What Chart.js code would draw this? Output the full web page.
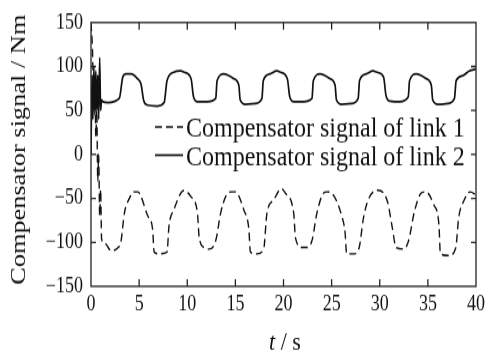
<!DOCTYPE html>
<html>
<head>
<meta charset="utf-8">
<script src="https://cdn.jsdelivr.net/npm/chart.js@4.4.1/dist/chart.umd.min.js"></script>
<style>
  html { overflow: hidden; }
  body { margin: 0; padding: 0; background: #fff; height: 351px; }
  /* the reference figure is stretched vertically, so the canvas is too */
  #wrap { width: 489px; height: 293px; transform: scaleY(1.198); transform-origin: 0 0; }
</style>
</head>
<body>
<div id="wrap"><canvas id="chart" width="489" height="293"></canvas></div>
<script>
const FONT = '"Liberation Serif", "Times New Roman", serif';

// time axis ticks (s) and signal ticks (Nm)
const xTicks = [0, 5, 10, 15, 20, 25, 30, 35, 40];
const yTicks = [-150, -100, -50, 0, 50, 100, 150];

const legendLabels = ['Compensator signal of link 1', 'Compensator signal of link 2'];

// link 1 (dashed)
const link1T = [0, 0.15, 0.3, 0.4, 0.5, 0.6, 0.7, 0.8, 0.9, 1.0, 1.1, 1.3, 1.55, 2.1, 2.8, 3.1, 3.47, 3.98, 4.5, 4.85,
  5.9, 6.4, 6.56, 7.08, 7.9, 8.1, 8.6, 9.66, 10.38, 11.06, 11.24, 11.75, 12.27, 12.96, 13.47, 13.99, 14.5, 15.0,
  15.88, 16.4, 16.56, 17.25, 17.94, 18.28, 18.97, 19.8, 20.2, 21.06, 21.24, 21.9, 22.4, 22.96, 23.47, 24.15, 24.5,
  25.0, 26.05, 26.4, 26.56, 27.4, 27.9, 28.28, 28.8, 29.8, 30.8, 31.3, 31.7, 32.5, 33.0, 33.6, 34.3, 34.8,
  35.6, 36.15, 36.3, 37.2, 37.9, 38.2, 38.7, 39.4, 40];
const link1V = [150, 120, 60, 90, 20, 50, -30, 0, -70, -40, -96, -100, -102, -109.5, -106, -100, -66.7, -50, -42.5, -42.5,
  -70, -85, -111, -113, -111, -81.6, -63, -41, -48, -66.7, -94.6, -105.8, -107.6, -98, -66.7, -48, -42.5, -42.5,
  -63, -85, -111, -113, -107.6, -66.7, -51.7, -39, -44, -66.7, -94.6, -105.8, -105.8, -98, -66.7, -44, -42.5,
  -44, -70, -89, -113, -113, -104, -74, -51.7, -40.6, -53.6, -83, -106, -107.6, -98, -65, -44, -42.5,
  -57, -80, -113, -115, -106, -72, -53.6, -42.5, -46];

// link 2 (solid)
const link2T = [0, 0.1, 0.2, 0.3, 0.4, 0.5, 0.6, 0.7, 0.8, 0.9, 1.0, 1.1, 1.24, 1.75, 2.95, 3.3, 3.65, 4.15, 4.85, 5.2,
  5.46, 5.9, 6.9, 7.6, 7.9, 8.6, 9.3, 9.7, 10.4, 10.65, 11.06, 12.1, 12.96, 13.1, 13.8, 14.85, 15.36, 15.5, 16.05,
  17.08, 17.76, 17.9, 18.6, 19.3, 19.7, 20.4, 20.65, 21.06, 22.1, 22.96, 23.1, 23.8, 24.85, 25.36, 25.5, 26.05,
  27.08, 27.76, 27.9, 28.6, 29.3, 29.7, 30.4, 30.65, 31.06, 32.1, 32.96, 33.1, 33.8, 34.85, 35.36, 35.5, 36.05,
  37.08, 37.76, 37.94, 38.63, 39.3, 40];
const link2V = [0, 90, 40, 100, 45, 95, 50, 90, 40, 110, 50, 62, 60, 59, 64, 88, 91.6, 91.6, 86, 80,
  62, 56, 55, 59, 84, 93.5, 95, 93.5, 86, 65.6, 60, 60, 63.7, 84, 91.6, 86, 78.5, 62, 57,
  58, 63.7, 84, 91.6, 95, 93.5, 86, 65.6, 60, 60, 63.7, 84, 91.6, 86, 78.5, 62, 57,
  58, 63.7, 84, 91.6, 95, 93.5, 88, 67, 60.7, 60, 65.6, 84, 91.6, 86, 78.5, 62, 57,
  58, 63.7, 84, 89.7, 95, 97];

const toPoints = (ts, vs) => ts.map((t, i) => ({ x: t, y: vs[i] }));

// box, inside ticks, axis titles and legend
const frame = {
  id: 'frame',
  afterDatasetsDraw(chart) {
    const { ctx, chartArea: a, scales: { x, y } } = chart;
    ctx.save();
    ctx.strokeStyle = '#222';
    ctx.lineWidth = 1.3;
    ctx.strokeRect(a.left, a.top, a.right - a.left, a.bottom - a.top);
    ctx.beginPath();
    xTicks.slice(1, -1).forEach(v => {
      const px = x.getPixelForValue(v);
      ctx.moveTo(px, a.bottom); ctx.lineTo(px, a.bottom - 6);
      ctx.moveTo(px, a.top); ctx.lineTo(px, a.top + 6);
    });
    yTicks.slice(1, -1).forEach(v => {
      const py = y.getPixelForValue(v);
      ctx.moveTo(a.left, py); ctx.lineTo(a.left + 5, py);
      ctx.moveTo(a.right, py); ctx.lineTo(a.right - 5, py);
    });
    ctx.stroke();

    // legend
    ctx.font = '24px ' + FONT;
    ctx.fillStyle = '#111';
    ctx.textAlign = 'left';
    ctx.textBaseline = 'alphabetic';
    const rows = [106, 129.5];
    chart.data.datasets.forEach((ds, i) => {
      ctx.setLineDash(ds.borderDash || []);
      ctx.lineWidth = ds.borderWidth;
      ctx.strokeStyle = ds.borderColor;
      ctx.beginPath();
      ctx.moveTo(155, rows[i]); ctx.lineTo(183, rows[i]);
      ctx.stroke();
      ctx.fillText(legendLabels[i], 186, rows[i] + 8);
    });
    ctx.setLineDash([]);

    // x title: italic t / s
    ctx.font = 'italic 22px ' + FONT;
    const w1 = ctx.measureText('t').width;
    ctx.font = '22px ' + FONT;
    const w2 = ctx.measureText(' / s').width;
    let sx = 285 - (w1 + w2) / 2;
    ctx.textBaseline = 'middle';
    ctx.font = 'italic 22px ' + FONT;
    ctx.fillText('t', sx, 286);
    ctx.font = '22px ' + FONT;
    ctx.fillText(' / s', sx + w1, 286);

    // y title
    ctx.translate(19, 125);
    ctx.rotate(-Math.PI / 2);
    ctx.textAlign = 'center';
    ctx.fillText('Compensator signal / Nm', 0, 0);
    ctx.restore();
  }
};

new Chart(document.getElementById('chart'), {
  type: 'line',
  data: {
    datasets: [{
      label: legendLabels[0],
      data: toPoints(link1T, link1V),
      borderColor: '#111',
      borderWidth: 1.4,
      borderDash: [7, 4],
      pointRadius: 0,
      fill: false,
      cubicInterpolationMode: 'monotone'
    }, {
      label: legendLabels[1],
      data: toPoints(link2T, link2V),
      borderColor: '#111',
      borderWidth: 1.7,
      pointRadius: 0,
      fill: false,
      cubicInterpolationMode: 'monotone'
    }]
  },
  options: {
    responsive: false,
    animation: false,
    layout: { padding: { top: 15, right: 10, left: 0, bottom: 0 } },
    plugins: { legend: { display: false }, tooltip: { enabled: false } },
    scales: {
      x: {
        type: 'linear',
        min: 0,
        max: 40,
        afterBuildTicks: s => { s.ticks = xTicks.map(v => ({ value: v })); },
        ticks: { color: '#111', font: { family: FONT, size: 18 }, padding: 4, maxRotation: 0 },
        grid: { display: false, drawTicks: false },
        border: { display: false },
        afterFit: s => { s.height = 54; }
      },
      y: {
        min: -150,
        max: 150,
        afterBuildTicks: s => { s.ticks = yTicks.map(v => ({ value: v })); },
        ticks: {
          color: '#111',
          font: { family: FONT, size: 18 },
          padding: 8,
          callback: v => String(v).replace('-', '\u2212')
        },
        grid: { display: false, drawTicks: false },
        border: { display: false },
        afterFit: s => { s.width = 91; }
      }
    }
  },
  plugins: [frame]
});
</script>
</body>
</html>
